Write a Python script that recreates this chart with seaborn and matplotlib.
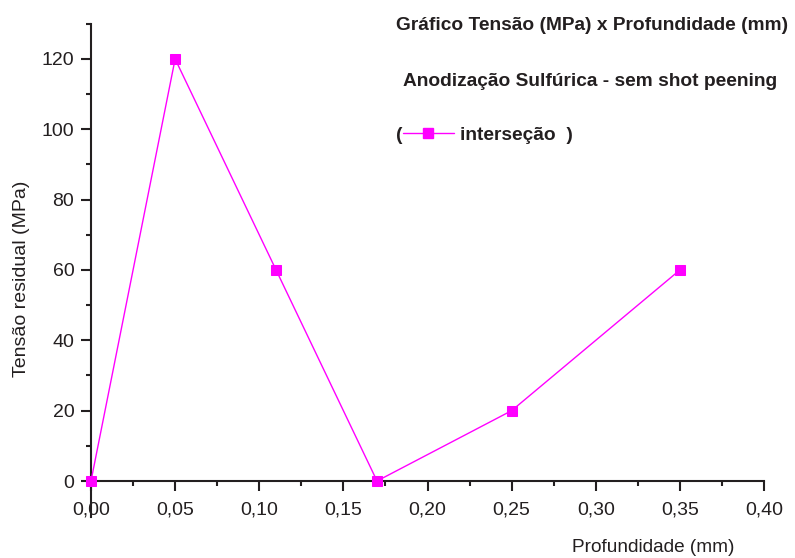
import matplotlib
matplotlib.use("Agg")
import matplotlib.pyplot as plt
import seaborn as sns
import pandas as pd
from matplotlib.lines import Line2D
from matplotlib.ticker import MultipleLocator, FuncFormatter

profundidade = [0.00, 0.05, 0.11, 0.17, 0.25, 0.35]
tensao = [0, 120, 60, 0, 20, 60]
series_name = "interseção"
title1 = "Gráfico Tensão (MPa) x Profundidade (mm)"
title2 = "Anodização Sulfúrica - sem shot peening"
xlabel = "Profundidade (mm)"
ylabel = "Tensão residual (MPa)"

sns.set_style("ticks")
plt.rcParams['font.family'] = ['Liberation Sans', 'DejaVu Sans']
TXT = '#231f20'
MAG = '#ff00ff'

df = pd.DataFrame({"x": profundidade, "y": tensao})

fig = plt.figure(figsize=(7.95, 5.58), dpi=100)
W, H = 795, 558
ax = fig.add_axes([91 / W, 1 - 481 / H, (764 - 91) / W, (481 - 23.8) / H])

sns.lineplot(data=df, x="x", y="y", ax=ax, color=MAG, lw=1.0, marker='s',
             markersize=7.5, markeredgecolor=MAG, markerfacecolor=MAG,
             clip_on=False, zorder=5, legend=False)

ax.set_xlim(0, 0.40)
ax.set_ylim(0, 130)
ax.xaxis.set_major_locator(MultipleLocator(0.05))
ax.xaxis.set_minor_locator(MultipleLocator(0.025))
ax.yaxis.set_major_locator(MultipleLocator(20))
ax.yaxis.set_minor_locator(MultipleLocator(10))
ax.xaxis.set_major_formatter(FuncFormatter(lambda v, p: f"{v:.2f}".replace('.', ',')))
ax.yaxis.set_major_formatter(FuncFormatter(lambda v, p: f"{v:.0f}"))

for s in ['top', 'right']:
    ax.spines[s].set_visible(False)
for s in ['left', 'bottom']:
    ax.spines[s].set_linewidth(1.5)
    ax.spines[s].set_color(TXT)
ax.spines['left'].set_bounds(-10.2, 130)

ax.tick_params(axis='both', which='major', direction='out', length=7, width=1.5,
               colors=TXT, labelsize=14, labelcolor=TXT)
ax.tick_params(axis='both', which='minor', direction='out', length=3.6, width=1.5, colors=TXT)
ax.tick_params(axis='x', which='major', pad=8)
ax.tick_params(axis='y', which='major', pad=5)

ax.set_xlabel("")
ax.set_ylabel("")
fig.text(653 / W, 1 - 548 / H, xlabel, ha='center', va='center', fontsize=13.7, color=TXT)
fig.text(22 / W, 1 - 279 / H, ylabel, ha='center', va='center', rotation=90,
         fontsize=14, color=TXT)

fig.text(592 / W, 1 - 26 / H, title1, ha='center', va='center', fontsize=13.8,
         fontweight='bold', color=TXT)
fig.text(590 / W, 1 - 81 / H, title2, ha='center', va='center', fontsize=13.8,
         fontweight='bold', color=TXT)
fig.text(396 / W, 1 - 135 / H, "(", ha='left', va='center', fontsize=13.8,
         fontweight='bold', color=TXT)
fig.add_artist(Line2D([403 / W, 454 / W], [1 - 133 / H, 1 - 133 / H], color=MAG, lw=1.0,
                      transform=fig.transFigure))
fig.add_artist(Line2D([428 / W], [1 - 133 / H], color=MAG, marker='s', markersize=7.5,
                      transform=fig.transFigure))
fig.text(460 / W, 1 - 135 / H, series_name + "  )", ha='left', va='center', fontsize=13.8,
         fontweight='bold', color=TXT)

fig.savefig("out.png", dpi=100)
